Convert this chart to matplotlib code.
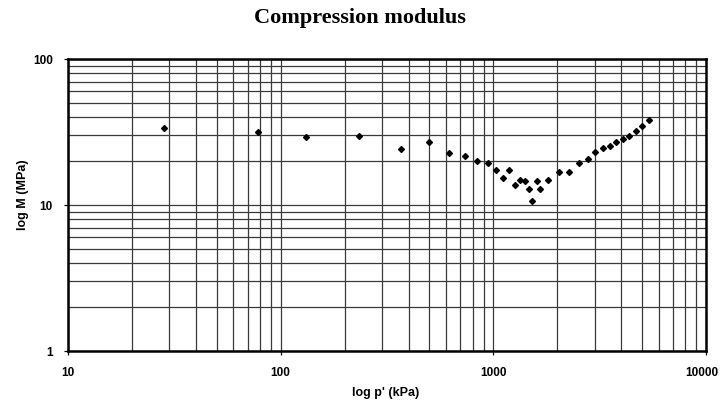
import matplotlib
matplotlib.use("Agg")
import matplotlib.pyplot as plt
import matplotlib.transforms as mtrans
from matplotlib.ticker import LogLocator, FixedLocator, NullFormatter

# data
p_kpa = [28.4, 78.2, 131, 234, 368, 498, 622, 733, 837, 940, 1031, 1114, 1189,
         1265, 1341, 1413, 1473, 1528, 1596, 1660, 1803, 2032, 2280, 2536, 2800,
         3020, 3266, 3524, 3772, 4055, 4362, 4680, 5012, 5375]
m_mpa = [33.8, 31.5, 29.3, 29.8, 24.0, 27.1, 22.7, 21.8, 19.9, 19.4, 17.3, 15.2, 17.3,
         13.8, 14.8, 14.7, 12.8, 10.7, 14.5, 12.8, 14.8, 16.9, 16.7, 19.5, 20.8,
         23.1, 24.7, 25.5, 27.2, 28.2, 29.6, 32.2, 34.5, 38.5]
x_ticks = [10, 100, 1000, 10000]
x_ticklabels = ["10", "100", "1000", "10000"]
y_ticks = [1, 10, 100]
y_ticklabels = ["1", "10", "100"]
title = "Compression modulus"
x_label = "log p' (kPa)"
y_label = "log M (MPa)"

W, H = 721, 402
fig = plt.figure(figsize=(W / 100, H / 100), dpi=100)
ax = fig.add_axes([68 / W, 1 - 352 / H, (706 - 68) / W, (352 - 60) / H])

ax.set_xscale("log")
ax.set_yscale("log")
ax.set_xlim(10, 10000)
ax.set_ylim(1, 100)

ax.grid(True, which="both", color="#3a3a3a", linewidth=0.9)
ax.set_axisbelow(True)

ax.plot(p_kpa, m_mpa, linestyle="none", marker="D", markersize=3.0,
        color="black", zorder=3)

sans = ["Liberation Sans", "DejaVu Sans"]
ax.xaxis.set_major_locator(FixedLocator(x_ticks))
ax.set_xticklabels(x_ticklabels, fontsize=8.5, family=sans, fontweight="bold")
ax.yaxis.set_major_locator(FixedLocator(y_ticks))
ax.set_yticklabels(y_ticklabels, fontsize=8.5, family=sans, fontweight="bold")
ax.xaxis.set_minor_locator(LogLocator(base=10, subs=range(2, 10)))
ax.yaxis.set_minor_locator(LogLocator(base=10, subs=range(2, 10)))
ax.xaxis.set_minor_formatter(NullFormatter())
ax.yaxis.set_minor_formatter(NullFormatter())
ax.tick_params(which="major", length=3, width=0.9, pad=8, color="black")
ax.tick_params(which="minor", length=0)

# keep the last x label inside the figure
last = ax.get_xticklabels()[-1]
last.set_transform(last.get_transform() +
                   mtrans.ScaledTranslation(-4 / 100, 0, fig.dpi_scale_trans))

for s in ax.spines.values():
    s.set_linewidth(1.8)
    s.set_color("black")

fig.text(360 / W, 1 - 18 / H, title, ha="center", va="center",
         fontsize=16, fontweight="bold", family=["Liberation Serif", "DejaVu Serif"])
fig.text(386 / W, 1 - 393 / H, x_label, ha="center", va="center",
         fontsize=9, fontweight="bold", family=sans)
fig.text(23 / W, 1 - 195 / H, y_label, ha="center", va="center", rotation=90,
         fontsize=9, fontweight="bold", family=sans)

fig.savefig("out.png", dpi=100)
